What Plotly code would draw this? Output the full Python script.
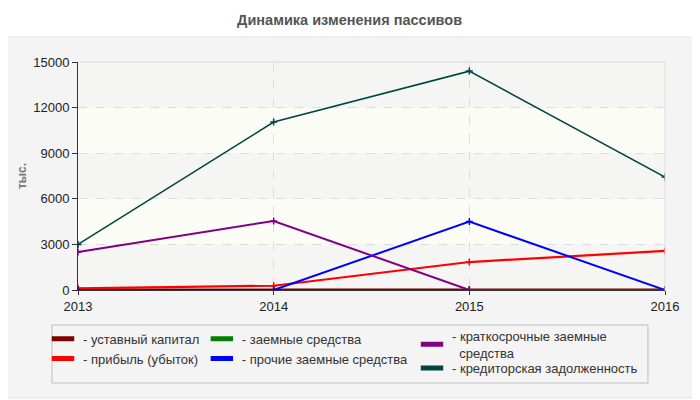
import plotly.graph_objects as go

# data
years = [2013, 2014, 2015, 2016]
ustavny_kapital = [10, 10, 10, 10]
pribyl = [110, 280, 1840, 2570]
zaemnye = [0, 0, 0, 0]
prochie_zaemnye = [0, 0, 4500, 0]
kratkosrochnye = [2500, 4540, 0, 0]
kreditorskaya = [3000, 11050, 14400, 7430]

names = ["- уставный капитал", "- прибыль (убыток)", "- заемные средства",
         "- прочие заемные средства",
         "- краткосрочные заемные<br>\u00a0\u00a0средства",
         "- кредиторская задолженность"]
series = [ustavny_kapital, pribyl, zaemnye, prochie_zaemnye, kratkosrochnye, kreditorskaya]
colors = ["#800000", "#ff0000", "#008000", "#0000ff", "#800080", "#004444"]
widths = [2.5, 2.2, 2, 2, 2, 1.6]
legend_ids = ["legend", "legend", "legend2", "legend2", "legend3", "legend4"]
draw_order = [2, 0, 1, 3, 4, 5]  # green sits underneath the others

FONT = "Liberation Sans, Arial, sans-serif"

fig = go.Figure()

for i in draw_order:
    c = colors[i]
    fig.add_trace(go.Scatter(
        x=years, y=series[i], mode="lines+markers", showlegend=False,
        line=dict(color=c, width=widths[i]),
        marker=dict(symbol="cross-thin", size=5, line=dict(color=c, width=1.5)),
        name=names[i],
    ))

# legend swatches
for name, c, lg in zip(names, colors, legend_ids):
    fig.add_trace(go.Scatter(
        x=[None], y=[None], mode="markers", name=name, legend=lg,
        marker=dict(symbol="line-ew", size=16, color=c, line=dict(color=c, width=7)),
    ))

shapes = []
# gray panel behind the chart
shapes.append(dict(type="rect", xref="paper", yref="paper", x0=-0.1295, x1=1.0528,
                   y0=-0.4737, y1=1.1096, fillcolor="#f4f4f4",
                   line=dict(color="#e2e2e2", width=1), layer="below"))
# alternating bands
for i, (y0, y1) in enumerate([(0, 3000), (3000, 6000), (6000, 9000), (9000, 12000), (12000, 15000)]):
    shapes.append(dict(type="rect", xref="x", yref="y", x0=2013, x1=2016, y0=y0, y1=y1,
                       fillcolor="#f5f5f3" if i % 2 == 0 else "#fcfcf7",
                       line=dict(width=0), layer="below"))
# top / right frame
shapes.append(dict(type="line", xref="paper", yref="paper", x0=0, x1=1, y0=1, y1=1,
                   line=dict(color="#dcdcdc", width=1)))
shapes.append(dict(type="line", xref="paper", yref="paper", x0=1, x1=1, y0=0, y1=1,
                   line=dict(color="#dcdcdc", width=1)))
# legend frame
shapes.append(dict(type="rect", xref="paper", yref="paper", x0=-0.0443, x1=0.971,
                   y0=-0.408, y1=-0.1535, fillcolor="rgba(0,0,0,0)",
                   line=dict(color="#bdbdbd", width=1)))

leg_font = dict(family=FONT, size=13, color="#333")
leg_y = -0.148
leg_common = dict(xanchor="left", yanchor="top", font=leg_font,
                  bgcolor="rgba(0,0,0,0)", itemwidth=30)
fig.update_layout(
    width=700, height=400,
    margin=dict(l=70, r=43, t=54, b=118),
    paper_bgcolor="white", plot_bgcolor="rgba(0,0,0,0)",
    title=dict(text="<b>Динамика изменения пассивов</b>", x=0.488, xref="container", y=0.97,
               xanchor="center", yanchor="middle",
               font=dict(family=FONT, size=14.5, color="#555")),
    shapes=shapes,
    legend=dict(x=-0.0596, y=leg_y, **leg_common),
    legend2=dict(x=0.211, y=leg_y, **leg_common),
    legend3=dict(x=0.569, y=-0.135, **leg_common),
    legend4=dict(x=0.569, y=-0.277, **leg_common),
    xaxis=dict(range=[2013, 2016], tickvals=years, ticktext=[str(y) for y in years],
               showgrid=True, gridcolor="#dcdcdc", griddash="dash", gridwidth=1,
               showline=True, linecolor="#333", linewidth=1, ticks="outside",
               ticklen=4, tickcolor="#333", zeroline=False,
               tickfont=dict(family=FONT, size=13, color="#222")),
    yaxis=dict(range=[0, 15000], dtick=3000, tickformat="d",
               showgrid=True, gridcolor="#dcdcdc", griddash="dash", gridwidth=1,
               showline=True, linecolor="#333", linewidth=1, ticks="outside",
               ticklen=5, tickcolor="#333", zeroline=False,
               tickfont=dict(family=FONT, size=13, color="#222"),
               title=dict(text="<b>тыс.</b>", standoff=4,
                          font=dict(family=FONT, size=12, color="#777"))),
)

fig.write_html("out.html")
